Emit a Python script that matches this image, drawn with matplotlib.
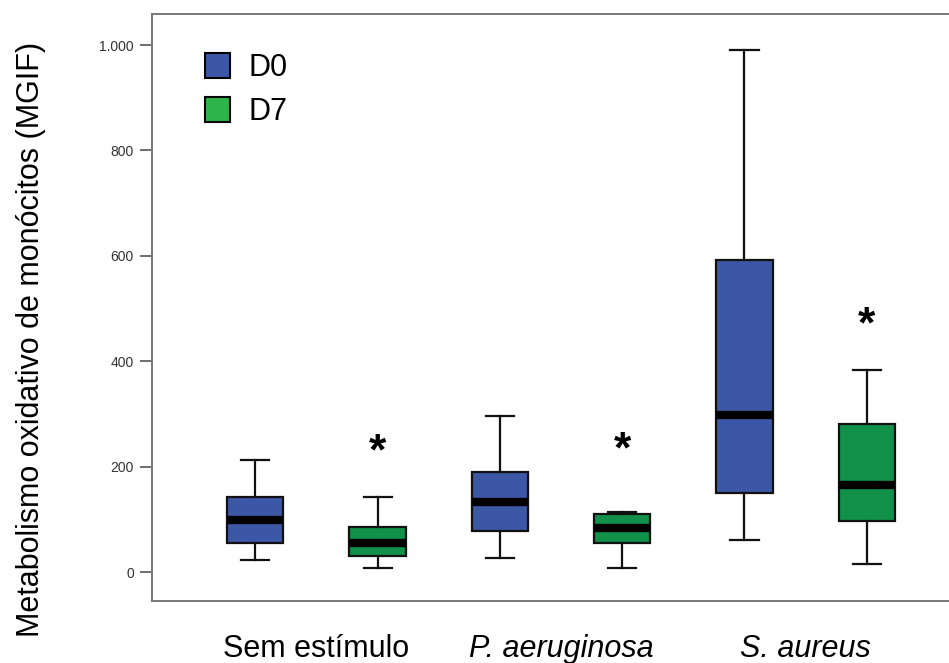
import matplotlib
matplotlib.use("Agg")
import matplotlib.pyplot as plt
from matplotlib.patches import Patch

# ---- data ----
groups = ["Sem estímulo", "P. aeruginosa", "S. aureus"]
group_italic = [False, True, True]
series = ["D0", "D7"]
whislo = [23, 8, 27, 8, 61, 16]
q1 = [55, 30, 78, 56, 150, 97]
med = [99, 55, 133, 83, 298, 165]
q3 = [142, 85, 190, 110, 592, 281]
whishi = [212, 142, 296, 113, 990, 383]
box_series = ["D0", "D7", "D0", "D7", "D0", "D7"]
star_boxes = [2, 4, 6]
star_y = [226, 229, 468]
yticks = [0, 200, 400, 600, 800, 1000]
ytick_labels = ["0", "200", "400", "600", "800", "1.000"]

box_colors = {"D0": "#3D57A7", "D7": "#11904A"}
legend_colors = {"D0": "#3D57A7", "D7": "#2DB44A"}

plt.rcParams['font.family'] = ['Liberation Sans', 'DejaVu Sans']

fig = plt.figure(figsize=(9.49, 6.63), dpi=100)
ax = fig.add_axes([152/949, 1-601/663, 1-152/949 + 0.01, (601-14)/663])

positions = list(range(1, len(med) + 1))
stats = []
for i in range(len(med)):
    stats.append(dict(med=med[i], q1=q1[i], q3=q3[i], whislo=whislo[i], whishi=whishi[i], fliers=[]))

bp = ax.bxp(stats, positions=positions, widths=0.46, patch_artist=True, showfliers=False,
            boxprops=dict(linewidth=1.6, edgecolor='#111111'),
            whiskerprops=dict(linewidth=1.6, color='#111111'),
            capprops=dict(linewidth=1.6, color='#111111'),
            medianprops=dict(linewidth=6, color='black', solid_capstyle='butt'))
for patch, s in zip(bp['boxes'], box_series):
    patch.set_facecolor(box_colors[s])

for b, y in zip(star_boxes, star_y):
    ax.text(b, y, "*", ha='center', va='center', fontsize=32, fontweight='bold')

ax.set_xlim(0.155, 6.75)
ax.set_ylim(-55, 1059)
ax.set_yticks(yticks)
ax.set_yticklabels(ytick_labels, fontsize=10, color='#333333')
ax.tick_params(axis='y', length=9, width=1.2, color='#555555', pad=4)

centers = [1.5, 3.5, 5.5]
ax.set_xticks(centers)
ax.set_xticklabels(groups, fontsize=22)
for lbl, it in zip(ax.get_xticklabels(), group_italic):
    if it:
        lbl.set_style('italic')
ax.tick_params(axis='x', length=0, pad=24)

for sp in ['top', 'left', 'bottom']:
    ax.spines[sp].set_color('#777777')
    ax.spines[sp].set_linewidth(1.4)
ax.spines['right'].set_visible(False)

ax.set_ylabel("Metabolismo oxidativo de monócitos (MGIF)", fontsize=22)
ax.yaxis.set_label_coords(-0.131, 0.445)

handles = [Patch(facecolor=legend_colors[s], edgecolor='black', linewidth=1.5) for s in series]
ax.legend(handles, series, loc='upper left', bbox_to_anchor=(0.031, 0.98), frameon=False,
          fontsize=22, handlelength=0.85, handleheight=0.85, handletextpad=0.6,
          labelspacing=0.45)

fig.savefig("out.png", dpi=100)
